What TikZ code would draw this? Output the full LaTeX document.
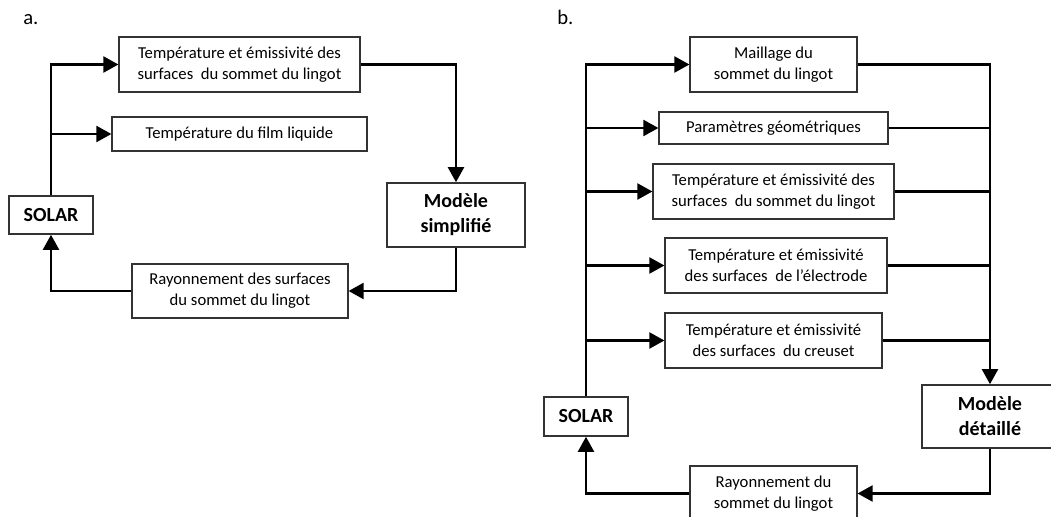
\documentclass[tikz,border=0pt]{standalone}
\usepackage{fontspec}
\setmainfont{Carlito}
\usetikzlibrary{arrows.meta}
\newcommand\mkbox[7]{\node[#1, minimum width={(#5-#3)*0.75pt}, minimum height={(#6-#4)*0.75pt}] (#2) at ({(#3+#5)/2},{(#4+#6)/2}) {#7};}
\begin{document}
\begin{tikzpicture}[x=0.75pt,y=-0.75pt,
  box/.style={draw=black!80, line width=0.9pt, inner sep=0pt, align=center,
    font=\fontsize{12.5}{15.75}\selectfont, text=black},
  bbox/.style={box, line width=1.2pt, font=\bfseries\fontsize{15}{18.75}\selectfont, text=black},
  conn/.style={line width=1.6pt, black},
  arr/.style={conn, -{Triangle[length=11.25pt,width=12pt]}},
  lab/.style={font=\fontsize{15.5}{18}\selectfont, anchor=base west, inner sep=0pt, text=black}]
\useasboundingbox (0,0) rectangle (1051,517);
\clip (0,0) rectangle (1051,517);

% ---------- a. ----------
\node[lab] (la) at (23,25) {a.};
\mkbox{box}{a1}{119}{37}{360}{92}{Température et émissivité des\\surfaces\ \ du sommet du lingot}
\mkbox{box}{a2}{112}{117}{367}{151}{Température du film liquide}
\mkbox{box}{a3}{132}{264}{348}{318}{Rayonnement des surfaces\\du sommet du lingot}
\mkbox{bbox}{solA}{9}{196}{93}{234}{SOLAR}
\mkbox{bbox}{modA}{387}{183}{525}{247}{Modèle\\simplifié}

\coordinate (ja) at (solA.north |- a2.west);
\draw[arr] (solA.north) |- (a1.west);
\draw[arr] (ja) -- (a2.west);
\draw[arr] (a1.east) -| (modA.north);
\draw[arr] (modA.south) |- (a3.east);
\draw[arr] (a3.west) -| (solA.south);

% ---------- b. ----------
\node[lab] (lb) at (557,25) {b.};
\mkbox{box}{b1}{690}{37}{857}{92}{Maillage du\\sommet du lingot}
\mkbox{box}{b2}{659}{112}{888}{144}{Paramètres géométriques}
\mkbox{box}{b3}{653}{164}{894}{219}{Température et émissivité des\\surfaces\ \ du sommet du lingot}
\mkbox{box}{b4}{665}{238}{887}{293}{Température et émissivité\\des surfaces\ \ de l’électrode}
\mkbox{box}{b5}{665}{313}{882}{368}{Température et émissivité\\des surfaces\ \ du creuset}
\mkbox{box}{b6}{690}{466}{857}{521}{Rayonnement du\\sommet du lingot}
\mkbox{bbox}{solB}{544}{397}{628}{436}{SOLAR}
\mkbox{bbox}{modB}{922}{385}{1058}{448}{Modèle\\détaillé}

\draw[arr] (solB.north) |- (b1.west);
\foreach \n in {b2,b3,b4,b5}{
  \coordinate (l\n) at (solB.north |- \n.west);
  \coordinate (r\n) at (modB.north |- \n.east);
  \draw[arr] (l\n) -- (\n.west);
  \draw[conn] (\n.east) -- (r\n);
}
\draw[arr] (b1.east) -| (modB.north);
\draw[arr] (modB.south) |- (b6.east);
\draw[arr] (b6.west) -| (solB.south);
\end{tikzpicture}
\end{document}
